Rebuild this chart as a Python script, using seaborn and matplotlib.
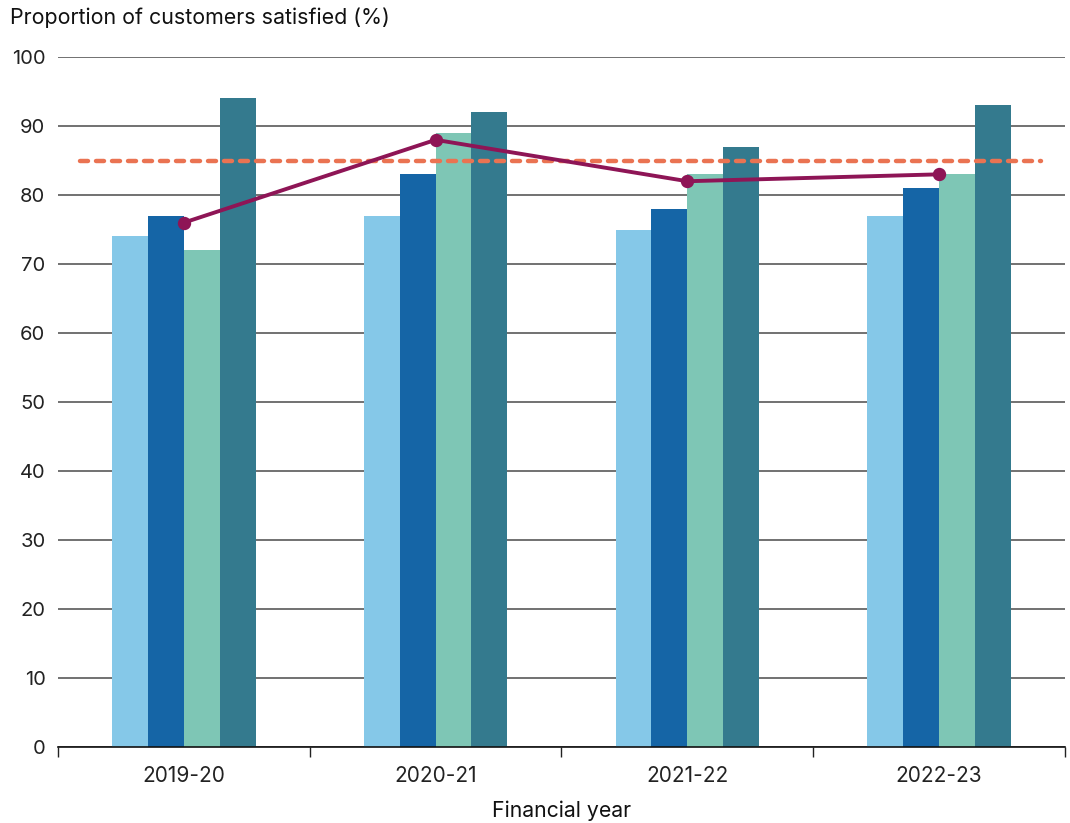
import matplotlib
matplotlib.use("Agg")
import matplotlib.pyplot as plt
import seaborn as sns
import pandas as pd

# Financial years and satisfaction results (%)
years = ["2019-20", "2020-21", "2021-22", "2022-23"]
series_names = ["Group A", "Group B", "Group C", "Group D"]
group_a = [74, 77, 75, 77]
group_b = [77, 83, 78, 81]
group_c = [72, 89, 83, 83]
group_d = [94, 92, 87, 93]
overall = [76, 88, 82, 83]
target = 85

bar_colors = ["#85C8E8", "#1565A6", "#7EC6B5", "#347A8E"]
line_color = "#8E1556"
target_color = "#EA7352"

rows = []
for name, vals in zip(series_names, [group_a, group_b, group_c, group_d]):
    for yr, v in zip(years, vals):
        rows.append({"year": yr, "series": name, "value": v})
df = pd.DataFrame(rows)
line_df = pd.DataFrame({"year": years, "value": overall})

sns.set_theme(style="white")
plt.rcParams["font.family"] = ["Inter", "DejaVu Sans"]

fig = plt.figure(figsize=(10.70, 8.23), dpi=100)
ax = fig.add_axes([0.0542, 0.0923, 0.9411, 0.8384])

ax.set_axisbelow(True)
ax.yaxis.grid(True, color="#666666", linewidth=1.3)

sns.barplot(data=df, x="year", y="value", hue="series", order=years,
            hue_order=series_names, palette=bar_colors, width=0.57,
            gap=0, saturation=1, edgecolor="none", linewidth=0,
            legend=False, ax=ax, zorder=2)

ax.axhline(target, xmin=0.022, xmax=0.976, color=target_color, linewidth=3.2,
           linestyle=(0, (1.8, 1.8)), dash_capstyle="round", zorder=3)

sns.pointplot(data=line_df, x="year", y="value", order=years,
              color=line_color, markers="o", markersize=7.5, linewidth=2.8,
              ax=ax, zorder=4)

ax.set_xlim(-0.5, 3.5)
ax.set_ylim(0, 100)
ax.set_yticks(range(0, 101, 10))
ax.tick_params(axis="y", length=0, labelsize=14.5, colors="#222222", pad=9)

# category labels centred, tick marks on the boundaries between them
ax.set_xticks([0, 1, 2, 3])
ax.set_xticklabels(years)
ax.set_xticks([-0.5, 0.5, 1.5, 2.5, 3.5], minor=True)
ax.tick_params(axis="x", which="major", bottom=False, labelsize=15,
               colors="#222222", pad=8)
ax.tick_params(axis="x", which="minor", bottom=True, length=7, width=1,
               color="#222222")

for s in ["left", "right", "top"]:
    ax.spines[s].set_visible(False)
ax.spines["bottom"].set_color("#111111")
ax.spines["bottom"].set_linewidth(1.2)

ax.set_xlabel("Financial year", fontsize=15.3, color="#111111", labelpad=10)
ax.set_ylabel("")
fig.text(0.0093, 0.978, "Proportion of customers satisfied (%)",
         fontsize=15.4, color="#111111", ha="left", va="center")

fig.savefig("out.png", dpi=100)
